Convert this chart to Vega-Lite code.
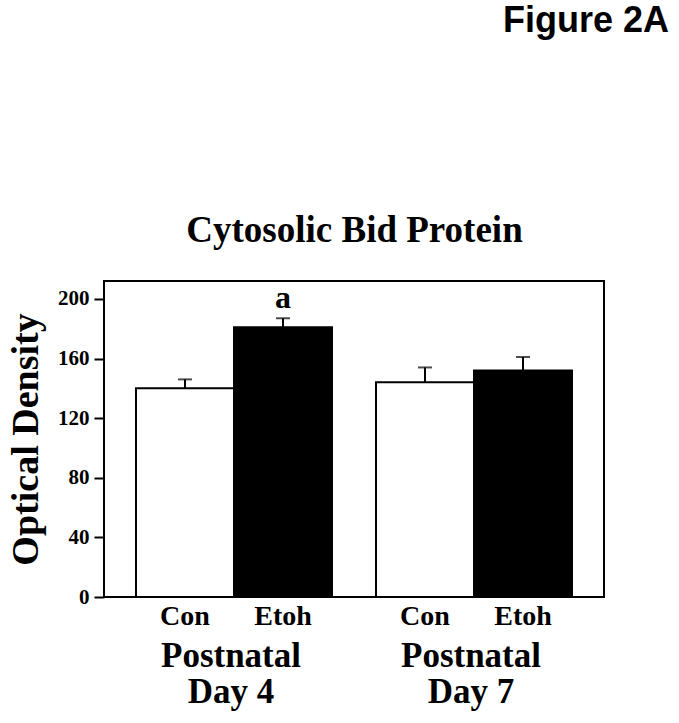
{
  "$schema": "https://vega.github.io/schema/vega-lite/v6.json",
  "autosize": "none",
  "padding": {"left": 104, "top": 281, "right": 75, "bottom": 126},
  "width": 500,
  "height": 316,
  "background": "white",
  "title": {
    "text": "Figure 2A",
    "anchor": "end",
    "font": "Liberation Sans",
    "fontSize": 36,
    "fontWeight": "bold",
    "color": "black",
    "dx": 65,
    "offset": 171
  },
  "config": {
    "view": {"stroke": "black", "strokeWidth": 2},
    "font": "Liberation Serif"
  },
  "data": {
    "values": [
      {"day": "Day 4", "group": "Con", "value": 140, "upper": 146, "sig": ""},
      {"day": "Day 4", "group": "Etoh", "value": 181, "upper": 187, "sig": "a"},
      {"day": "Day 7", "group": "Con", "value": 144, "upper": 154, "sig": ""},
      {"day": "Day 7", "group": "Etoh", "value": 152, "upper": 161, "sig": ""}
    ]
  },
  "resolve": {"axis": {"x": "independent"}},
  "layer": [
    {
      "mark": {"type": "bar", "stroke": "black", "strokeWidth": 2},
      "encoding": {
        "x": {
          "field": "day", "type": "nominal",
          "scale": {"paddingInner": 0.1833, "paddingOuter": 0.1333},
          "axis": {
            "orient": "bottom", "title": null, "ticks": false, "domain": false,
            "labelAngle": 0,
            "labelExpr": "['Postnatal', datum.label]",
            "labelFont": "Liberation Serif", "labelFontWeight": "bold",
            "labelFontSize": 35, "labelLineHeight": 36, "labelColor": "black",
            "labelBaseline": "top", "labelPadding": 41, "labelOffset": -3
          }
        },
        "xOffset": {"field": "group", "type": "nominal", "scale": {"paddingInner": 0, "paddingOuter": 0}},
        "y": {
          "field": "value", "type": "quantitative",
          "scale": {"domain": [0, 212], "nice": false},
          "axis": {
            "title": "Optical Density",
            "values": [0, 20, 40, 60, 80, 100, 120, 140, 160, 180, 200],
            "labelExpr": "datum.value % 40 === 0 ? datum.label : ''",
            "grid": false, "domain": false,
            "tickSize": 10, "tickWidth": 2, "tickColor": "black",
            "labelFont": "Liberation Serif", "labelFontWeight": "bold",
            "labelFontSize": 21, "labelColor": "black", "labelPadding": 5,
            "titleFont": "Liberation Serif", "titleFontWeight": "bold",
            "titleFontSize": 38, "titleColor": "black", "titlePadding": 12
          }
        },
        "fill": {
          "field": "group", "type": "nominal",
          "scale": {"domain": ["Con", "Etoh"], "range": ["white", "black"]},
          "legend": null
        }
      }
    },
    {
      "mark": {"type": "rule", "color": "black", "strokeWidth": 2},
      "encoding": {
        "x": {"field": "day", "type": "nominal", "axis": null},
        "xOffset": {"field": "group", "type": "nominal"},
        "y": {"field": "value", "type": "quantitative"},
        "y2": {"field": "upper"}
      }
    },
    {
      "mark": {"type": "tick", "color": "black", "thickness": 2, "size": 14},
      "encoding": {
        "x": {"field": "day", "type": "nominal", "axis": null},
        "xOffset": {"field": "group", "type": "nominal"},
        "y": {"field": "upper", "type": "quantitative"}
      }
    },
    {
      "mark": {"type": "text", "font": "Liberation Serif", "fontWeight": "bold", "fontSize": 32, "baseline": "alphabetic", "dy": -10, "color": "black"},
      "encoding": {
        "x": {"field": "day", "type": "nominal", "axis": null},
        "xOffset": {"field": "group", "type": "nominal"},
        "y": {"field": "upper", "type": "quantitative"},
        "text": {"field": "sig"}
      }
    },
    {
      "mark": {"type": "text", "font": "Liberation Serif", "fontWeight": "bold", "fontSize": 28, "baseline": "alphabetic", "dy": 28, "color": "black"},
      "encoding": {
        "x": {
          "field": "day", "type": "nominal",
          "axis": {
            "orient": "top", "labels": false, "ticks": false, "domain": false,
            "title": "Cytosolic Bid Protein",
            "titleFont": "Liberation Serif", "titleFontWeight": "bold",
            "titleFontSize": 37, "titleColor": "black", "titlePadding": 32
          }
        },
        "xOffset": {"field": "group", "type": "nominal"},
        "y": {"datum": 0, "type": "quantitative"},
        "text": {"field": "group"}
      }
    }
  ]
}
